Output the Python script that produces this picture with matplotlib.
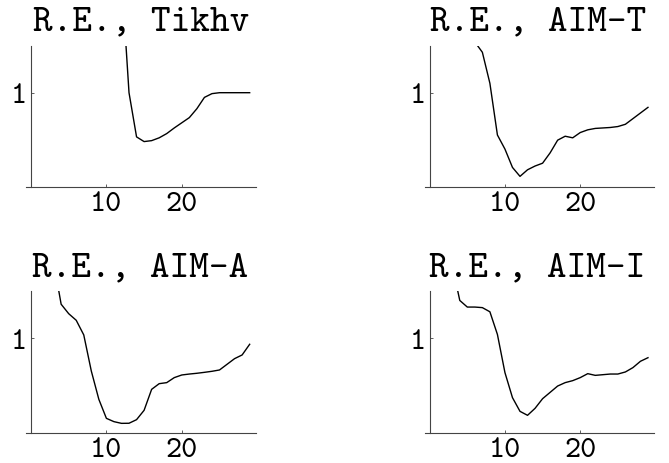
import matplotlib
matplotlib.use('Agg')
import matplotlib.pyplot as plt
import numpy as np

# relative error per iteration
titles = ['R.E., Tikhv', 'R.E., AIM-T', 'R.E., AIM-A', 'R.E., AIM-I']

x_tikhv = list(range(12, 30))
re_tikhv = [2.25, 1.0, 0.53, 0.48, 0.49, 0.52, 0.565, 0.625, 0.68, 0.735,
            0.83, 0.95, 0.99, 1.0, 1.0, 1.0, 1.0, 1.0]

x_aimt = list(range(6, 30))
re_aimt = [1.54, 1.43, 1.10, 0.55, 0.40, 0.205, 0.11, 0.18, 0.22, 0.25,
           0.36, 0.495, 0.537, 0.52, 0.576, 0.605, 0.62, 0.625, 0.63, 0.64,
           0.664, 0.724, 0.784, 0.844]

x_aima = list(range(3, 30))
re_aima = [1.81, 1.36, 1.26, 1.19, 1.035, 0.653, 0.353, 0.152, 0.117, 0.099,
           0.10, 0.138, 0.237, 0.459, 0.519, 0.53, 0.583, 0.611, 0.621, 0.629,
           0.639, 0.65, 0.664, 0.724, 0.784, 0.823, 0.936]

x_aimi = list(range(3, 30))
re_aimi = [1.77, 1.40, 1.33, 1.33, 1.324, 1.28, 1.04, 0.636, 0.371, 0.226,
           0.184, 0.258, 0.36, 0.427, 0.494, 0.53, 0.551, 0.583, 0.625, 0.607,
           0.614, 0.621, 0.621, 0.643, 0.689, 0.756, 0.794]

series = [(x_tikhv, re_tikhv), (x_aimt, re_aimt), (x_aima, re_aima), (x_aimi, re_aimi)]

W, H = 669, 464
fig = plt.figure(figsize=(W / 100, H / 100), dpi=100)

# axes boxes in pixels: left, right, top, bottom
boxes = [(26, 255.7, 46.7, 187.7), (424.7, 654, 46.7, 187.7),
         (26, 255.7, 292, 433.7), (424.7, 654, 292, 433.7)]
# title centre x and baseline y, pixels
title_pos = [(141.6, 30.7), (538.4, 30.7), (140, 277), (537.5, 277)]

font = ['cmtt10', 'DejaVu Sans Mono']

for i, (xs, ys) in enumerate(series):
    l, r, t, b = boxes[i]
    ax = fig.add_axes([l / W, 1 - b / H, (r - l) / W, (b - t) / H])
    ax.plot(xs, ys, color='black', lw=1.0)
    ax.set_xlim(-0.66, 29.8)
    ax.set_ylim(0, 1.5)
    ax.spines['top'].set_visible(False)
    ax.spines['right'].set_visible(False)
    ax.spines['left'].set_position(('data', 0))
    for s in ['left', 'bottom']:
        ax.spines[s].set_color('#444444')
        ax.spines[s].set_linewidth(0.8)
    ax.set_xticks([10, 20])
    ax.set_yticks([1])
    ax.tick_params(direction='in', length=2, width=0.6, color='#444444',
                   labelsize=22, pad=3)
    for lab in ax.get_xticklabels() + ax.get_yticklabels():
        lab.set_family(font)
    tx, ty = title_pos[i]
    fig.text(tx / W, 1 - ty / H, titles[i], family=font, fontsize=27,
             ha='center', va='baseline')

fig.savefig('out.png', dpi=100)
